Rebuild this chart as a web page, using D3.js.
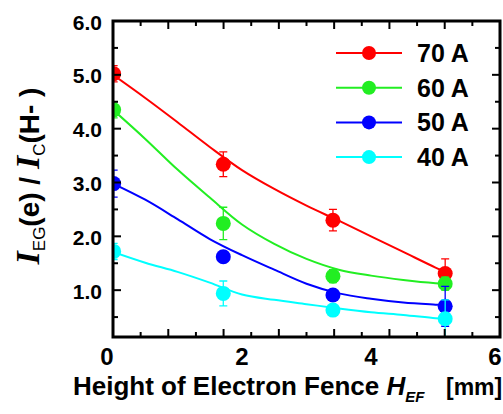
<!DOCTYPE html>
<html>
  <head>
    <meta charset="utf-8" />
    <title>I_EG(e) / I_C(H-) vs electron fence height</title>
    <style>
      body { margin: 0; background: #fff; }
      text { font-family: "Liberation Sans", Arial, sans-serif; font-weight: bold; }
    </style>
  </head>
  <body>
    <div id="chart-area"></div>
    <script src="https://d3js.org/d3.v7.min.js"></script>
    <script>
      // measured points (x = fence height in mm)
      const heights = [0.01, 1.71, 3.41, 5.15];
      const series = ["70 A", "60 A", "50 A", "40 A"];
      const colors = ["#ff0000", "#22ee22", "#0000ff", "#00ffff"];
      const ratio70 = [5.02, 3.34, 2.30, 1.31];
      const ratio60 = [4.35, 2.24, 1.26, 1.12];
      const ratio50 = [2.98, 1.62, 0.91, 0.70];
      const ratio40 = [1.72, 0.94, 0.63, 0.47];
      const err70 = [0.15, 0.23, 0.2, 0.27];
      const err60 = [0.15, 0.3, 0.12, 0.12];
      const err50 = [0.25, 0.1, 0.1, 0.37];
      const err40 = [0.15, 0.23, 0.08, 0.35];

      // fitted curves
      const fitX = [0, 0.5, 1, 1.5, 2, 2.5, 3, 3.5, 4, 4.5, 5, 5.15];
      const fit70 = [5.0, 4.57, 4.12, 3.66, 3.23, 2.88, 2.57, 2.29, 2.0, 1.71, 1.42, 1.34];
      const fit60 = [4.35, 3.81, 3.24, 2.72, 2.22, 1.86, 1.58, 1.38, 1.27, 1.19, 1.13, 1.12];
      const fit50 = [2.98, 2.68, 2.32, 1.95, 1.65, 1.38, 1.12, 0.94, 0.84, 0.77, 0.73, 0.72];
      const fit40 = [1.71, 1.51, 1.34, 1.14, 0.92, 0.82, 0.74, 0.66, 0.59, 0.54, 0.48, 0.47];

      const xTickLabels = [0, 2, 4, 6];
      const yTickLabels = [1, 2, 3, 4, 5, 6];

      const ratios = [ratio70, ratio60, ratio50, ratio40];
      const errs = [err70, err60, err50, err40];
      const fits = [fit70, fit60, fit50, fit40];

      const width = 503;
      const height = 414;
      const plot = { left: 113, right: 500, top: 21, bottom: 337 };

      const svg = d3.select("#chart-area").append("svg")
        .attr("width", width)
        .attr("height", height);

      const xScale = d3.scaleLinear()
        .domain([0, 6])
        .range([plot.left, plot.right]);

      const yScale = d3.scaleLinear()
        .domain([0.13, 6])
        .range([plot.bottom, plot.top]);

      svg.append("clipPath")
        .attr("id", "clip")
        .append("rect")
        .attr("x", plot.left)
        .attr("y", plot.top)
        .attr("width", plot.right - plot.left)
        .attr("height", plot.bottom - plot.top);

      const chart = svg.append("g").attr("clip-path", "url(#clip)");

      const line = d3.line()
        .x((d) => xScale(d[0]))
        .y((d) => yScale(d[1]))
        .curve(d3.curveCatmullRom);

      series.forEach((name, s) => {
        const g = chart.append("g");
        g.append("path")
          .datum(fitX.map((x, i) => [x, fits[s][i]]))
          .attr("fill", "none")
          .attr("stroke", colors[s])
          .attr("stroke-width", 2)
          .attr("d", line);

        const pts = heights.map((x, i) => ({ x: x, y: ratios[s][i], e: errs[s][i] }));

        g.selectAll(".err")
          .data(pts)
          .enter()
          .append("path")
          .attr("fill", "none")
          .attr("stroke", colors[s])
          .attr("stroke-width", 1.3)
          .attr("d", (d) => {
            const x = xScale(d.x), y1 = yScale(d.y + d.e), y2 = yScale(d.y - d.e);
            return `M${x - 4},${y1}H${x + 4}M${x},${y1}V${y2}M${x - 4},${y2}H${x + 4}`;
          });

        g.selectAll("circle")
          .data(pts)
          .enter()
          .append("circle")
          .attr("cx", (d) => xScale(d.x))
          .attr("cy", (d) => yScale(d.y))
          .attr("r", 7.5)
          .attr("fill", colors[s]);
      });

      // ticks on all four sides, pointing inward
      const xTicks = d3.range(0, 15).map((i) => (i * 6) / 14);
      const yTicks = d3.range(0.5, 6.01, 0.5);
      const axisG = svg.append("g").attr("stroke", "#000").attr("stroke-width", 2);
      xTicks.forEach((t, i) => {
        const len = i % 2 === 0 ? 8 : 5;
        axisG.append("line")
          .attr("x1", xScale(t)).attr("x2", xScale(t))
          .attr("y1", plot.bottom).attr("y2", plot.bottom - len);
        axisG.append("line")
          .attr("x1", xScale(t)).attr("x2", xScale(t))
          .attr("y1", plot.top).attr("y2", plot.top + len);
      });
      yTicks.forEach((t) => {
        const len = Number.isInteger(t) ? 8 : 5;
        axisG.append("line")
          .attr("x1", plot.left).attr("x2", plot.left + len)
          .attr("y1", yScale(t)).attr("y2", yScale(t));
        axisG.append("line")
          .attr("x1", plot.right).attr("x2", plot.right - len)
          .attr("y1", yScale(t)).attr("y2", yScale(t));
      });

      svg.append("rect")
        .attr("x", plot.left)
        .attr("y", plot.top)
        .attr("width", plot.right - plot.left)
        .attr("height", plot.bottom - plot.top)
        .attr("fill", "none")
        .attr("stroke", "#000")
        .attr("stroke-width", 3);

      svg.selectAll(".xlab")
        .data(xTickLabels)
        .enter()
        .append("text")
        .attr("x", (d) => xScale(d) + (d === 0 ? -6 : d === 6 ? -5 : 0))
        .attr("y", 365)
        .attr("text-anchor", "middle")
        .attr("font-size", 24)
        .text((d) => d);

      svg.selectAll(".ylab")
        .data(yTickLabels)
        .enter()
        .append("text")
        .attr("x", 102)
        .attr("y", (d) => yScale(d) + 8.5)
        .attr("text-anchor", "end")
        .attr("font-size", 21)
        .text((d) => d.toFixed(1));

      // legend
      const legend = svg.append("g");
      series.forEach((name, s) => {
        const y = 53 + s * 34.7;
        legend.append("line")
          .attr("x1", 336).attr("x2", 402)
          .attr("y1", y).attr("y2", y)
          .attr("stroke", colors[s])
          .attr("stroke-width", 2);
        legend.append("circle")
          .attr("cx", 369).attr("cy", y)
          .attr("r", 7)
          .attr("fill", colors[s]);
        legend.append("text")
          .attr("x", 417).attr("y", y + 9)
          .attr("font-size", 25)
          .text(name);
      });

      // axis titles
      const xt = svg.append("text")
        .attr("x", 73)
        .attr("y", 395)
        .attr("font-size", 26);
      xt.append("tspan").text("Height of Electron Fence ");
      xt.append("tspan").attr("font-style", "italic").text("H");
      xt.append("tspan").attr("font-style", "italic").attr("font-size", 15).attr("dy", 7).text("EF");
      xt.append("tspan").attr("dy", -7).attr("x", 446).attr("font-size", 23).text("[mm]");

      const yt = svg.append("text")
        .attr("transform", "translate(39,176) rotate(-90)")
        .attr("text-anchor", "middle")
        .attr("font-size", 28);
      const serif = "'Liberation Serif', 'Times New Roman', serif";
      yt.append("tspan").attr("font-family", serif).attr("font-style", "italic").attr("font-size", 34).text("I");
      yt.append("tspan").attr("font-size", 17).attr("font-weight", "normal").attr("dy", 6).text("EG");
      yt.append("tspan").attr("dy", -6).text("(e)  /  ");
      yt.append("tspan").attr("font-family", serif).attr("font-style", "italic").attr("font-size", 34).text("I");
      yt.append("tspan").attr("font-size", 17).attr("font-weight", "normal").attr("dy", 6).text("C");
      yt.append("tspan").attr("dy", -6).text("(H- )");
    </script>
  </body>
</html>
